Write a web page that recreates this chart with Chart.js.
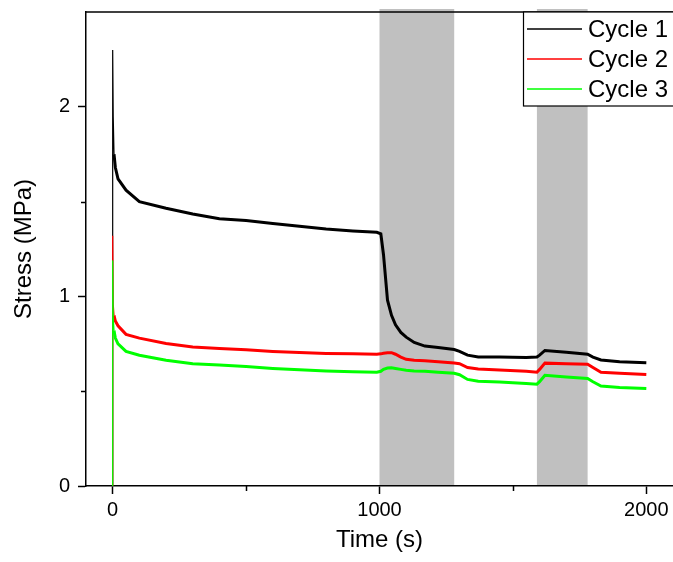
<!DOCTYPE html>
<html>
<head>
<meta charset="utf-8">
<script src="https://cdn.jsdelivr.net/npm/chart.js@4"></script>
<style>
  html, body { margin: 0; padding: 0; background: #fff; }
  canvas { display: block; }
</style>
</head>
<body>
<canvas id="stressChart" width="673" height="562"></canvas>
<script>
// time axis shared by all three cycles (s)
const timeValues = [0, 0, 2, 5, 10, 20, 50, 100, 200, 300, 400, 500, 600, 700, 800, 900, 990,
    1005, 1015, 1030, 1045, 1060, 1080, 1100, 1130, 1170, 1220, 1280, 1300, 1330, 1370, 1450, 1550,
    1590, 1600, 1620, 1700, 1780, 1800, 1830, 1900, 2000];

// stress (MPa)
const cycle1 = [0, 2.30, 1.95, 1.75, 1.68, 1.62, 1.56, 1.50, 1.465, 1.435, 1.41, 1.40, 1.385, 1.37, 1.355, 1.345, 1.338,
    1.33, 1.22, 0.98, 0.90, 0.85, 0.81, 0.785, 0.757, 0.738, 0.73, 0.72, 0.71, 0.69, 0.68, 0.68, 0.678,
    0.68, 0.69, 0.715, 0.705, 0.695, 0.68, 0.665, 0.655, 0.65];
const cycle2 = [0, 1.32, 0.96, 0.90, 0.87, 0.845, 0.80, 0.78, 0.752, 0.733, 0.725, 0.718, 0.71, 0.704, 0.699, 0.697, 0.695,
    0.697, 0.70, 0.703, 0.703, 0.695, 0.68, 0.668, 0.663, 0.66, 0.655, 0.649, 0.645, 0.625, 0.617, 0.612, 0.605,
    0.60, 0.615, 0.648, 0.645, 0.642, 0.625, 0.60, 0.595, 0.588];
const cycle3 = [0, 1.19, 0.89, 0.82, 0.78, 0.75, 0.71, 0.69, 0.663, 0.645, 0.638, 0.63, 0.62, 0.613, 0.607, 0.602, 0.60,
    0.605, 0.615, 0.622, 0.623, 0.62, 0.615, 0.61, 0.607, 0.605, 0.60, 0.595, 0.587, 0.562, 0.552, 0.548, 0.54,
    0.537, 0.55, 0.584, 0.575, 0.567, 0.55, 0.527, 0.52, 0.514];

const seriesNames = ['Cycle 1', 'Cycle 2', 'Cycle 3'];
const seriesColors = ['#000000', '#ff0000', '#00ff00'];

// grey bands (s)
const bandStarts = [1000, 1590];
const bandEnds = [1280, 1780];

const xMajorTicks = [0, 1000, 2000];
const xMinorTicks = [500, 1500];
const yMajorTicks = [0, 1, 2];
const yMinorTicks = [0.5, 1.5];

const FONT = "Arial, 'Liberation Sans', sans-serif";

function toPoints(values) {
    return values.map((v, i) => ({ x: timeValues[i], y: v }));
}

const bandsPlugin = {
    id: 'bands',
    beforeDraw(chart) {
        const { ctx, chartArea, scales } = chart;
        ctx.save();
        ctx.fillStyle = '#c0c0c0';
        bandStarts.forEach((s, i) => {
            const x0 = scales.x.getPixelForValue(s);
            const x1 = scales.x.getPixelForValue(bandEnds[i]);
            ctx.fillRect(x0, chartArea.top - 3, x1 - x0, chartArea.bottom - chartArea.top + 2);
        });
        ctx.restore();
    }
};

const framePlugin = {
    id: 'frame',
    afterDraw(chart) {
        const { ctx, chartArea, scales } = chart;
        ctx.save();
        ctx.strokeStyle = '#000';
        ctx.lineWidth = 1.5;
        // top frame line
        ctx.beginPath();
        ctx.moveTo(chartArea.left, chartArea.top);
        ctx.lineTo(chartArea.right, chartArea.top);
        ctx.stroke();
        // minor ticks
        ctx.beginPath();
        xMinorTicks.forEach(v => {
            const x = Math.round(scales.x.getPixelForValue(v)) + 0.5;
            ctx.moveTo(x, chartArea.bottom);
            ctx.lineTo(x, chartArea.bottom + 5);
        });
        yMinorTicks.forEach(v => {
            const y = Math.round(scales.y.getPixelForValue(v)) + 0.5;
            ctx.moveTo(chartArea.left, y);
            ctx.lineTo(chartArea.left - 5, y);
        });
        ctx.stroke();

        // legend box
        const bx = 523, by = chartArea.top, bh = 94;
        ctx.fillStyle = '#fff';
        ctx.fillRect(bx, by, chartArea.right - bx + 5, bh);
        ctx.lineWidth = 1.2;
        ctx.strokeRect(bx + 0.5, by, chartArea.right - bx + 5, bh);
        ctx.font = '24px ' + FONT;
        ctx.textBaseline = 'middle';
        ctx.textAlign = 'left';
        seriesNames.forEach((name, i) => {
            const y = by + 17 + i * 30;
            ctx.strokeStyle = seriesColors[i];
            ctx.lineWidth = 1.5;
            ctx.beginPath();
            ctx.moveTo(527, y);
            ctx.lineTo(582, y);
            ctx.stroke();
            ctx.fillStyle = '#000';
            ctx.fillText(name, 588, y + 1);
        });
        ctx.restore();
    }
};

const thinStart = ctx => (ctx.p0DataIndex < 3 ? 1.2 : 3);

const chart = new Chart(document.getElementById('stressChart').getContext('2d'), {
    type: 'line',
    data: {
        datasets: [cycle1, cycle2, cycle3].map((vals, i) => ({
            label: seriesNames[i],
            data: toPoints(vals),
            borderColor: seriesColors[i],
            borderWidth: 3,
            pointRadius: 0,
            tension: 0,
            order: 3 - i,
            segment: { borderWidth: thinStart }
        }))
    },
    options: {
        responsive: false,
        animation: false,
        devicePixelRatio: 1,
        layout: { padding: { top: 12, right: 0, left: 0, bottom: 0 } },
        plugins: {
            legend: { display: false },
            tooltip: { enabled: false }
        },
        scales: {
            x: {
                type: 'linear',
                min: -100,
                max: 2100,
                afterBuildTicks: s => { s.ticks = xMajorTicks.map(v => ({ value: v })); },
                afterFit: s => { s.height = 76; s.paddingLeft = 0; s.paddingRight = 0; },
                grid: { drawOnChartArea: false, tickLength: 8, tickColor: '#000', tickWidth: 1.5 },
                border: { color: '#000', width: 1.5 },
                ticks: { color: '#000', font: { family: FONT, size: 20 }, padding: 4, maxRotation: 0,
                    callback: v => String(v) },
                title: { display: true, text: 'Time (s)', color: '#000', font: { family: FONT, size: 24 }, padding: { bottom: 7 } }
            },
            y: {
                min: 0,
                max: 2.5,
                afterBuildTicks: s => { s.ticks = yMajorTicks.map(v => ({ value: v })); },
                afterFit: s => { s.width = 86; s.paddingTop = 0; s.paddingBottom = 0; },
                grid: { drawOnChartArea: false, tickLength: 8, tickColor: '#000', tickWidth: 1.5 },
                border: { color: '#000', width: 1.5 },
                ticks: { color: '#000', font: { family: FONT, size: 20 }, padding: 8, callback: v => String(v) },
                title: { display: true, text: 'Stress (MPa)', color: '#000', font: { family: FONT, size: 24 }, padding: { top: 10 } }
            }
        }
    },
    plugins: [bandsPlugin, framePlugin]
});
</script>
</body>
</html>
